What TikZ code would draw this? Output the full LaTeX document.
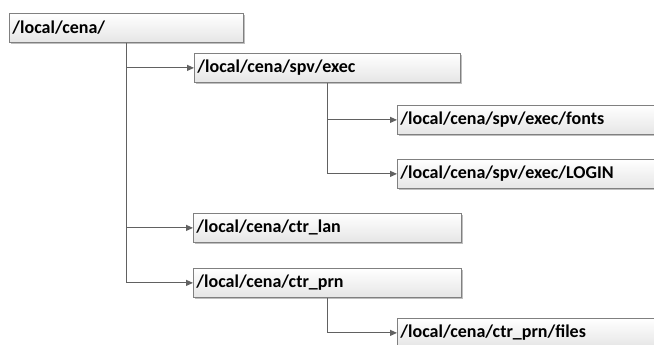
\documentclass[tikz,border=0pt]{standalone}
\usepackage{fontspec}
\setmainfont{Carlito}
\usetikzlibrary{arrows.meta,shadows}
\begin{document}
\begin{tikzpicture}[x=1pt,y=-1pt,
  dirbox/.style={draw=black!50, line width=0.8pt, rectangle, anchor=north west,
    top color=white, bottom color=black!10,
    drop shadow={shadow xshift=1.5pt, shadow yshift=-1.5pt, opacity=0.25, fill=black},
    minimum height=29pt, inner xsep=3pt, inner ysep=0pt, align=left,
    font=\fontsize{18}{20}\selectfont\bfseries},
  conn/.style={draw=black!62, line width=1.1pt, -{Triangle[length=7pt,width=6pt]}}]
  \useasboundingbox (0,0) rectangle (654,345);
  \clip (0,0) rectangle (654,345);
  \fill[white] (0,0) rectangle (654,345);
  % directory boxes
  \node[dirbox, text width=228pt] (root) at (9,13) {/local/cena/};
  \node[dirbox, text width=260pt] (exec) at (194,53) {/local/cena/spv/exec};
  \node[dirbox, text width=287pt] (fonts) at (397,105) {/local/cena/spv/exec/fonts};
  \node[dirbox, text width=287pt] (login) at (397,159) {/local/cena/spv/exec/LOGIN};
  \node[dirbox, text width=262pt] (lan) at (193,213) {/local/cena/ctr\_lan};
  \node[dirbox, text width=262pt] (prn) at (193,268) {/local/cena/ctr\_prn};
  \node[dirbox, text width=287pt] (files) at (397,318) {/local/cena/ctr\_prn/files};
  % tree connectors
  \draw[conn] (root.south) |- (exec.west);
  \draw[conn] (root.south) |- (lan.west);
  \draw[conn] (root.south) |- (prn.west);
  \draw[conn] (exec.south) |- (fonts.west);
  \draw[conn] (exec.south) |- (login.west);
  \draw[conn] (prn.south) |- (files.west);
\end{tikzpicture}
\end{document}
